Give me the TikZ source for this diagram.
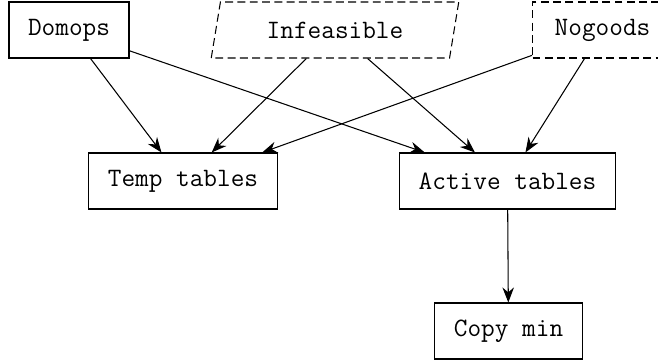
\documentclass[tikz,border=0pt]{standalone}
\usetikzlibrary{arrows.meta, shapes.geometric}

\begin{document}
\begin{tikzpicture}[
    line width=0.6pt,
    every node/.style={draw, font=\ttfamily\fontsize{15.1}{18}\selectfont, inner xsep=0.38cm, minimum height=1.12cm},
    arrow/.style={-{Stealth[length=0.3cm, width=0.23cm]}},
    dashed box/.style={dash pattern=on 4.5pt off 2.5pt},
    slanted/.style={trapezium, trapezium left angle=72, trapezium right angle=108,
        trapezium stretches body=true, minimum width=4.95cm}]

% page frame; the nogoods box runs off the right side
\useasboundingbox (0,0) rectangle (13.16,7.26);
\clip (0,0) rectangle (13.16,7.26);

\node (domops) at (1.38,6.66) {Domops};
\node[slanted, dashed box] (infeasible) at (6.70,6.66) {Infeasible};
\node[dashed box, minimum width=2.8cm] (nogoods) at (12.05,6.66) {Nogoods};
\node (temp) at (3.66,3.64) {Temp tables};
\node (active) at (10.15,3.64) {Active tables};
\node (copymin) at (10.17,0.64) {Copy min};

\draw[arrow] (domops) -- (temp);
\draw[arrow] (domops) -- (active);
\draw[arrow] (infeasible) -- (temp);
\draw[arrow] (infeasible) -- (active);
\draw[arrow] (nogoods) -- (temp);
\draw[arrow] (nogoods) -- (active);
\draw[arrow] (active) -- (copymin);

\end{tikzpicture}
\end{document}
